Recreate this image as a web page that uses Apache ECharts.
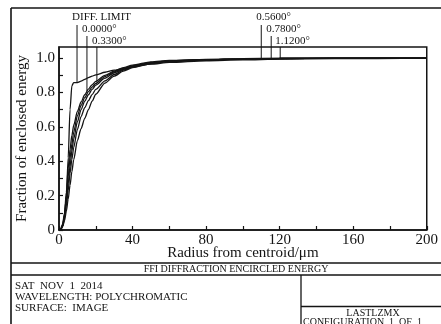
<!DOCTYPE html>
<html><head><meta charset="utf-8">
<script src="https://cdn.jsdelivr.net/npm/echarts@6/dist/echarts.min.js"></script>
<style>html,body{margin:0;padding:0;background:#fff}#c{width:441px;height:324px}</style>
</head><body><div id="c"></div>
<script>
// ---- data ----
const radius    = [0,1,2,3,4,5,6,7,8,10,12,14,16,18,20,25,30,35,40,50,60,80,100,120,150,200];
const diffLimit = [0,0.005,0.02,0.08,0.2,0.42,0.7,0.84,0.858,0.858,0.866,0.877,0.887,0.895,0.903,0.918,0.93,0.94,0.95,0.965,0.975,0.985,0.99,0.994,0.997,1.0];
const field000  = [0,0.008,0.035,0.10,0.22,0.36,0.47,0.55,0.61,0.69,0.745,0.787,0.82,0.845,0.865,0.90,0.925,0.945,0.96,0.978,0.987,0.993,0.997,0.999,1.0,1.0];
const field033  = [0,0.007,0.03,0.09,0.19,0.31,0.42,0.50,0.57,0.665,0.725,0.77,0.805,0.832,0.853,0.893,0.92,0.94,0.955,0.975,0.985,0.992,0.996,0.998,1.0,1.0];
const field056  = [0,0.006,0.027,0.08,0.16,0.27,0.37,0.46,0.53,0.63,0.70,0.75,0.787,0.818,0.843,0.884,0.915,0.935,0.952,0.972,0.983,0.991,0.995,0.998,1.0,1.0];
const field078  = [0,0.005,0.024,0.07,0.14,0.23,0.33,0.41,0.48,0.585,0.66,0.712,0.753,0.788,0.818,0.868,0.905,0.93,0.948,0.97,0.982,0.99,0.995,0.998,1.0,1.0];
const field112  = [0,0.004,0.02,0.055,0.11,0.18,0.26,0.34,0.41,0.52,0.59,0.65,0.70,0.75,0.79,0.855,0.895,0.925,0.945,0.967,0.98,0.99,0.995,0.998,0.999,1.0];
const curveNames = ['DIFF. LIMIT','0.0000°','0.3300°','0.5600°','0.7800°','1.1200°'];
const leaderRadius = [9.8, 15.2, 20.6, 110, 115.4, 120.3];
const xTicks = [0,40,80,120,160,200];
const yTicks = [0,0.2,0.4,0.6,0.8,1.0];
const footerLines = ['SAT  NOV  1  2014','WAVELENGTH: POLYCHROMATIC','SURFACE:  IMAGE'];
const plotTitle = 'FFI DIFFRACTION ENCIRCLED ENERGY';
const fileName = 'LASTLZMX';
const configText = 'CONFIGURATION  1  OF  1';

const curves = [diffLimit, field000, field033, field056, field078, field112];
const serif = '"Liberation Serif","DejaVu Serif",serif';
const ink = '#141414';

const chart = echarts.init(document.getElementById('c'), null, {renderer:'canvas'});

function interp(arr, r){
  for (let i=1;i<radius.length;i++){
    if (r <= radius[i]){
      const t=(r-radius[i-1])/(radius[i]-radius[i-1]);
      return arr[i-1]+t*(arr[i]-arr[i-1]);
    }
  }
  return arr[arr.length-1];
}

const W=441,H=324;
const frame = [
  {type:'line', shape:{x1:11,y1:8,x2:W,y2:8}, style:{stroke:ink,lineWidth:1.6}},
  {type:'line', shape:{x1:11,y1:8,x2:11,y2:H}, style:{stroke:ink,lineWidth:1.6}},
  {type:'line', shape:{x1:11,y1:263,x2:W,y2:263}, style:{stroke:ink,lineWidth:1.3}},
  {type:'line', shape:{x1:11,y1:275,x2:W,y2:275}, style:{stroke:ink,lineWidth:1.3}},
  {type:'line', shape:{x1:301,y1:275,x2:301,y2:H}, style:{stroke:ink,lineWidth:1.3}},
  {type:'line', shape:{x1:301,y1:306.5,x2:W,y2:306.5}, style:{stroke:ink,lineWidth:1.3}},
  {type:'text', style:{x:236,y:269.5,text:plotTitle,font:'10px '+serif,fill:ink,align:'center',verticalAlign:'middle'}},
  {type:'text', style:{x:373,y:313,text:fileName,font:'10px '+serif,fill:ink,align:'center',verticalAlign:'middle'}},
  {type:'text', style:{x:303,y:322,text:configText,font:'10px '+serif,fill:ink,align:'left',verticalAlign:'middle'}}
];
footerLines.forEach((t,i)=>frame.push({type:'text', style:{x:15,y:286+i*11,text:t,font:'11px '+serif,fill:ink,align:'left',verticalAlign:'middle'}}));

const option = {
  animation:false,
  backgroundColor:'#fff',
  grid:{left:59,right:13,top:47,bottom:94,show:true,borderColor:ink,borderWidth:1.5,backgroundColor:'transparent'},
  xAxis:{
    type:'value',min:0,max:200,interval:20,
    name:'Radius from centroid/μm',nameLocation:'middle',nameGap:16,nameMoveOverlap:false,
    nameTextStyle:{fontFamily:serif,fontSize:15,color:ink},
    axisLine:{lineStyle:{color:ink,width:1.5}},
    axisTick:{inside:true,length:4,lineStyle:{color:ink,width:1.2}},
    splitLine:{show:false},
    axisLabel:{margin:3,fontFamily:serif,fontSize:15,color:ink,
      formatter:v=>xTicks.indexOf(Math.round(v))>=0?String(Math.round(v)):''}
  },
  yAxis:{
    type:'value',min:0,max:1.065,interval:0.1,
    name:'Fraction of enclosed energy',nameLocation:'middle',nameGap:29,nameMoveOverlap:false,
    nameTextStyle:{fontFamily:serif,fontSize:15,color:ink},
    axisLine:{lineStyle:{color:ink,width:1.5}},
    axisTick:{inside:true,length:4,lineStyle:{color:ink,width:1.2}},
    splitLine:{show:false},
    axisLabel:{margin:4,fontFamily:serif,fontSize:15,color:ink,showMaxLabel:false,
      formatter:v=>{const k=yTicks.findIndex(t=>Math.abs(t-v)<1e-6);return k<0?'':(k===0?'0':yTicks[k].toFixed(1));}}
  },
  series: curves.map((arr,i)=>({
    type:'line', name:curveNames[i], showSymbol:false, smooth:0.25, smoothMonotone:'x',
    lineStyle:{color:ink,width:1.3}, data:radius.map((r,j)=>[r,arr[j]])
  })),
  graphic: frame
};
chart.setOption(option);

// leader lines and labels, ends placed via the chart's scales
const extra = [];
leaderRadius.forEach((r,i)=>{
  const k = i%3;
  const v = interp(curves[i], r);
  const p = chart.convertToPixel({gridIndex:0},[r,v]);
  const topY = 25 + 11*k;
  extra.push({type:'line', shape:{x1:p[0],y1:topY,x2:p[0],y2:p[1]}, style:{stroke:ink,lineWidth:1}});
  extra.push({type:'text', style:{x:p[0]-5,y:17+12*k,text:curveNames[i],font:'11px '+serif,fill:ink,align:'left',verticalAlign:'middle'}});
});
chart.setOption({graphic: frame.concat(extra)});
</script></body></html>
